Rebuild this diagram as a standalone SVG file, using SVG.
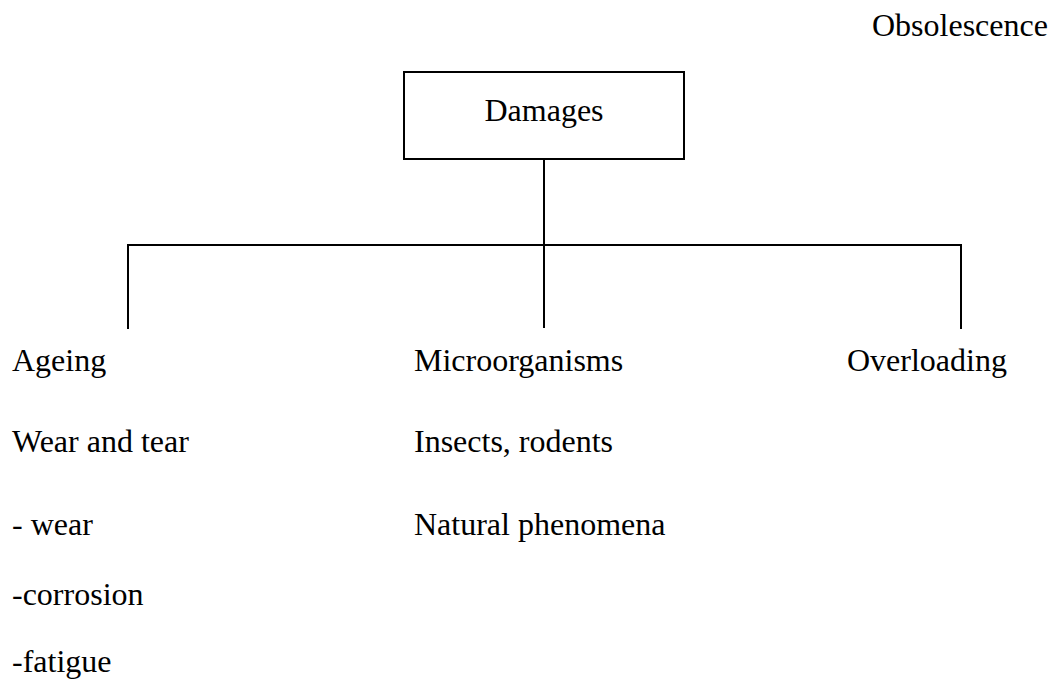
<svg xmlns="http://www.w3.org/2000/svg" width="1052" height="680" viewBox="0 0 1052 680">
  <style>
    .t { font-family: "Liberation Serif", "Times New Roman", serif; font-size: 32px; fill: #000; }
    .ln { stroke: #000; stroke-width: 2; fill: none; }
  </style>
  <rect width="1052" height="680" fill="#fff"/>
  <g id="obsolescence">
    <text class="t" x="872" y="36">Obsolescence</text>
  </g>
  <g id="damages">
    <rect class="ln" x="404" y="72" width="280" height="87"/>
    <text class="t" x="544" y="121" text-anchor="middle">Damages</text>
  </g>
  <g id="connectors">
    <line class="ln" x1="544" y1="159" x2="544" y2="328"/>
    <line class="ln" x1="127" y1="245" x2="962" y2="245"/>
    <line class="ln" x1="128" y1="244" x2="128" y2="329"/>
    <line class="ln" x1="961" y1="244" x2="961" y2="329"/>
  </g>
  <g id="ageing">
    <text class="t" x="12" y="371">Ageing</text>
    <text class="t" x="12" y="452">Wear and tear</text>
    <text class="t" x="12" y="535">- wear</text>
    <text class="t" x="12" y="605">-corrosion</text>
    <text class="t" x="12" y="672">-fatigue</text>
  </g>
  <g id="microorganisms">
    <text class="t" x="414" y="371">Microorganisms</text>
    <text class="t" x="414" y="452">Insects, rodents</text>
    <text class="t" x="414" y="535">Natural phenomena</text>
  </g>
  <g id="overloading">
    <text class="t" x="847" y="371">Overloading</text>
  </g>
</svg>
